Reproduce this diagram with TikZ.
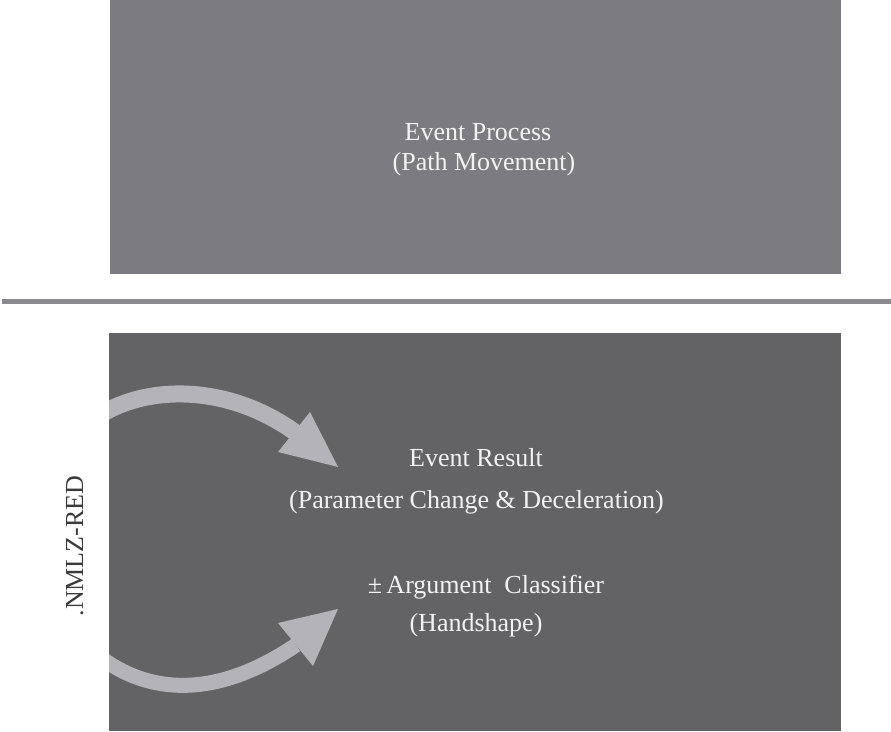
\documentclass[tikz,border=0pt]{standalone}
\usepackage{fontspec}
\setmainfont{Liberation Serif}
\definecolor{topgray}{HTML}{7C7C80}
\definecolor{botgray}{HTML}{636366}
\definecolor{rulegray}{HTML}{8A8A8C}
\definecolor{arrowgray}{HTML}{B4B4B8}
\definecolor{labelgray}{HTML}{3A3A3A}
\definecolor{txtwhite}{HTML}{F2F2F2}
\tikzset{
  boxtext/.style={text=txtwhite, font=\fontsize{26}{30}\selectfont, anchor=base, inner sep=0pt},
  shaft/.style={draw=arrowgray, line cap=butt},
  head/.style={fill=arrowgray}
}
\begin{document}
\begin{tikzpicture}[x=1pt,y=1pt]
\useasboundingbox (0,0) rectangle (891,731);
% boxes
\fill[topgray] (110,457) rectangle (841,731);
\fill[botgray] (109,0) rectangle (841,398);
% separator
\coordinate (la) at (2,429);
\coordinate (lb) at (891,429);
\draw[rulegray, line width=5pt] (la) -- (lb);
% texts
\node[boxtext] (ep) at (478,590) {Event Process};
\node[boxtext] (pm) at (484,560) {(Path Movement)};
\node[boxtext] (er) at (476,264) {Event Result};
\node[boxtext] (pc) at (476.5,222) {(Parameter Change \& Deceleration)};
\node[boxtext] (ac) at (486,138) {±\,Argument\ \ Classifier};
\node[boxtext] (hs) at (476,100) {(Handshape)};
\node[text=labelgray, font=\fontsize{26}{30}\selectfont, anchor=base, inner sep=0pt, rotate=90] (nr) at (83,185) {.NMLZ-RED};
% arrows
\begin{scope}
\clip (109,0) rectangle (841,398);
\coordinate (u0) at (100,316);
\coordinate (u1) at (296,298);
\draw[shaft, line width=17pt] (u0) .. controls (150,347) and (230,346) .. (u1);
\coordinate (l0) at (100,74);
\coordinate (l1) at (296,86);
\draw[shaft, line width=15pt] (l0) .. controls (160,29) and (230,41) .. (l1);
\end{scope}
\coordinate (ua) at (310,319);
\coordinate (ub) at (278,279);
\coordinate (uc) at (338,264);
\fill[head] (ua) -- (ub) -- (uc) -- cycle;
\coordinate (la1) at (278,108);
\coordinate (lb1) at (338,122);
\coordinate (lc1) at (313,65);
\fill[head] (la1) -- (lb1) -- (lc1) -- cycle;
\end{tikzpicture}
\end{document}
